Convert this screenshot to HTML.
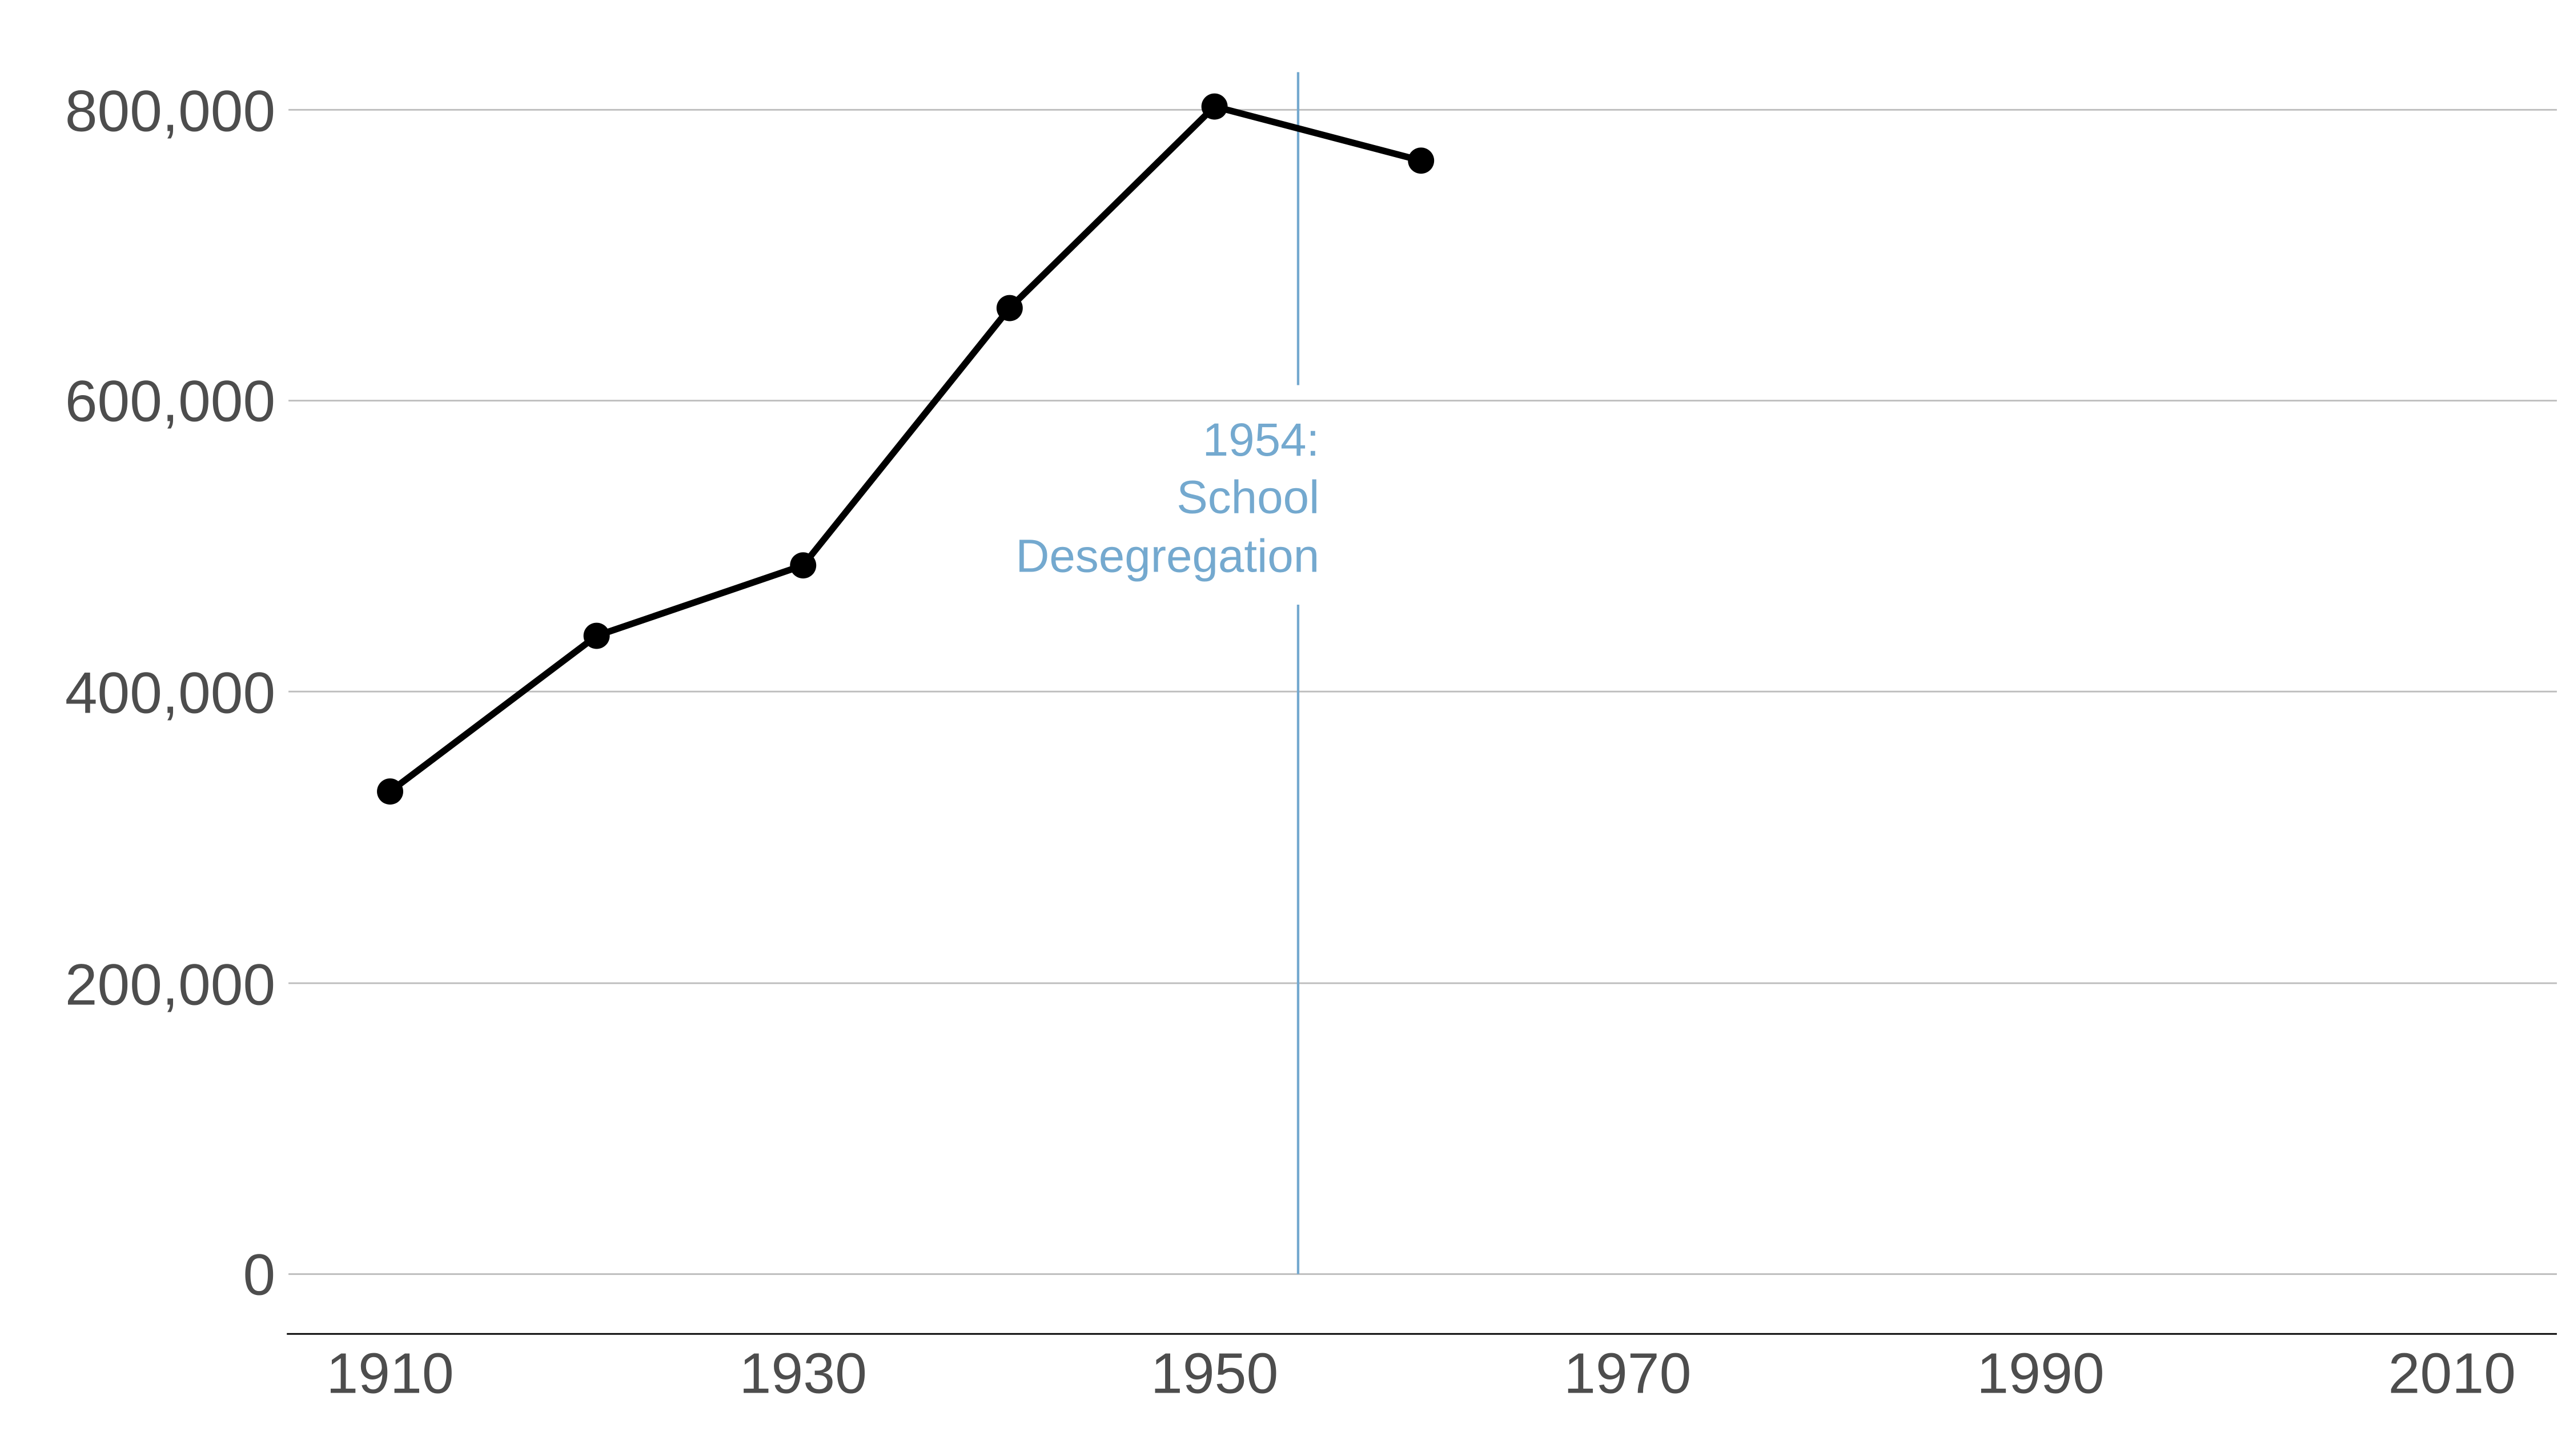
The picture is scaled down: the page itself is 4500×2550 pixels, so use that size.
<!DOCTYPE html>
<html><head><meta charset="utf-8"><style>html,body{margin:0;padding:0;background:#fff}svg{display:block}</style></head>
<body>
<svg width="4500" height="2550" viewBox="0 0 1568 888.5" xmlns="http://www.w3.org/2000/svg" font-family="Liberation Sans, sans-serif">
<rect width="1568" height="888.5" fill="#fff"/>
<g stroke="#bdbdbd" stroke-width="1">
<line x1="176" x2="1560" y1="67" y2="67"/>
<line x1="176" x2="1560" y1="244.5" y2="244.5"/>
<line x1="176" x2="1560" y1="422" y2="422"/>
<line x1="176" x2="1560" y1="600" y2="600"/>
<line x1="176" x2="1560" y1="777.5" y2="777.5"/>
</g>
<line x1="175" x2="1560" y1="814" y2="814" stroke="#000" stroke-width="1"/>
<g fill="#4d4d4d" font-size="35.5" text-anchor="end">
<text x="168" y="80">800,000</text>
<text x="168" y="257">600,000</text>
<text x="168" y="435">400,000</text>
<text x="168" y="613">200,000</text>
<text x="168" y="790">0</text>
</g>
<g fill="#4d4d4d" font-size="35" text-anchor="middle">
<text x="238" y="850">1910</text>
<text x="490" y="850">1930</text>
<text x="741" y="850">1950</text>
<text x="993" y="850">1970</text>
<text x="1245" y="850">1990</text>
<text x="1496" y="850">2010</text>
</g>
<g stroke="#74a9cf" stroke-width="1.5">
<line x1="792" x2="792" y1="44" y2="235"/>
<line x1="792" x2="792" y1="369" y2="777.5"/>
</g>
<g fill="#74a9cf" font-size="28.5" text-anchor="end">
<text x="805" y="278">1954:</text>
<text x="805" y="313">School</text>
<text x="805" y="349">Desegregation</text>
</g>
<polyline points="238,483 364,388 490,345 616,188 741,65 867,98" fill="none" stroke="#000" stroke-width="4" stroke-linejoin="round"/>
<g fill="#000">
<circle cx="238" cy="483" r="8"/><circle cx="364" cy="388" r="8"/><circle cx="490" cy="345" r="8"/>
<circle cx="616" cy="188" r="8"/><circle cx="741" cy="65" r="8"/><circle cx="867" cy="98" r="8"/>
</g>
</svg>
</body></html>
